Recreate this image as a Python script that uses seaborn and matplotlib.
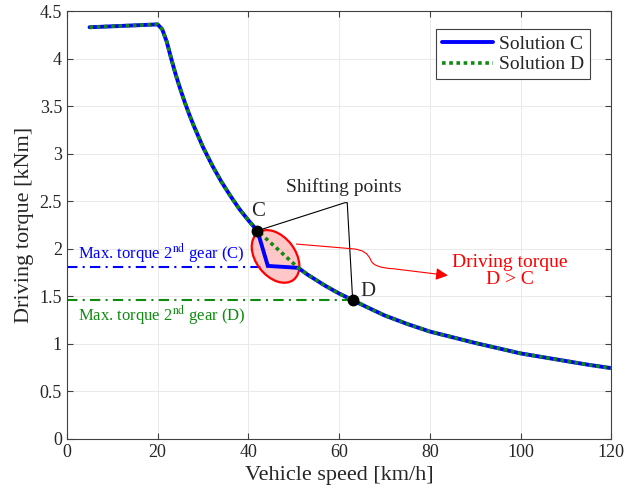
import numpy as np
import pandas as pd
import seaborn as sns
import matplotlib.pyplot as plt
from matplotlib.patches import Ellipse, FancyArrowPatch
from matplotlib.path import Path
from matplotlib.transforms import ScaledTranslation

# Full-load driving torque envelope [km/h] -> [kNm]
speed = [5, 10, 15, 20, 21, 22, 23, 24, 25, 26, 27, 28, 30, 32, 34, 36, 38, 40, 42,
         44, 46, 48, 51, 53, 55, 57, 60, 63, 66, 70, 75, 80, 85, 90, 95, 100, 105,
         110, 115, 120]
torque = [4.33, 4.34, 4.35, 4.36, 4.31, 4.18, 4.00, 3.83, 3.68, 3.54, 3.41, 3.29,
          3.07, 2.88, 2.71, 2.56, 2.42, 2.30, 2.19, 2.09, 2.00, 1.92, 1.80, 1.73,
          1.67, 1.61, 1.53, 1.46, 1.39, 1.30, 1.21, 1.13, 1.07, 1.01, 0.955, 0.90,
          0.86, 0.82, 0.78, 0.745]

# Shift points and second-gear torque limits
shift_c = (42, 2.19)
shift_d = (63, 1.46)
max_torque_c = 1.81
max_torque_d = 1.46
corner_c = (44.3, 1.82)
rejoin = (51, 1.80)

# Solution C: drops at C to 2nd-gear limit, then rejoins the envelope
sol_c_speed = [v for v in speed if v <= shift_c[0]] + [corner_c[0]] + [v for v in speed if v >= rejoin[0]]
sol_c_torque = [t for v, t in zip(speed, torque) if v <= shift_c[0]] + [corner_c[1]] + \
               [t for v, t in zip(speed, torque) if v >= rejoin[0]]
# Solution D: straight transition from C to the envelope
sol_d_speed = [v for v in speed if v <= shift_c[0]] + [v for v in speed if v >= rejoin[0]]
sol_d_torque = [t for v, t in zip(speed, torque) if v <= shift_c[0]] + \
               [t for v, t in zip(speed, torque) if v >= rejoin[0]]

df = pd.concat([
    pd.DataFrame({"speed": sol_c_speed, "torque": sol_c_torque, "series": "Solution C"}),
    pd.DataFrame({"speed": sol_d_speed, "torque": sol_d_torque, "series": "Solution D"}),
], ignore_index=True)

sns.set_style("ticks")
plt.rcParams["font.family"] = ["Liberation Serif", "DejaVu Serif"]
plt.rcParams["mathtext.fontset"] = "stix"

fig = plt.figure(figsize=(6.25, 5.04), dpi=100)
ax = fig.add_axes([0.107, 0.129, 0.871, 0.849])

blue = "#0000ff"
green = "#108a10"

sns.lineplot(data=df[df.series == "Solution C"], x="speed", y="torque", ax=ax,
             color=blue, lw=2.8, sort=False, estimator=None, label="Solution C", zorder=3)
sns.lineplot(data=df[df.series == "Solution D"], x="speed", y="torque", ax=ax,
             color=green, lw=2.6, sort=False, estimator=None, label="Solution D", zorder=4)
ax.lines[1].set_linestyle((0, (1, 1)))

# 2nd gear maximum torque levels
ax.plot([0, corner_c[0]], [max_torque_c, max_torque_c], color=blue, lw=1.5,
        ls=(0, (5, 2.5, 1, 2.5)), zorder=2)
ax.plot([0, shift_d[0]], [max_torque_d, max_torque_d], color=green, lw=1.5,
        ls=(0, (5, 2.5, 1, 2.5)), zorder=2)

# Highlighted region between the two solutions
ell = Ellipse((0, 0), width=0.59, height=0.395, angle=-52.6,
              transform=fig.dpi_scale_trans + ScaledTranslation(46.0, 1.92, ax.transData),
              facecolor=(1, 0.6, 0.6, 0.55), edgecolor="red", lw=1.6, zorder=2.5)
ax.add_patch(ell)

# Shift points
ax.plot([shift_c[0], shift_d[0]], [shift_c[1], shift_d[1]], "o", color="black",
        ms=7.5, ls="none", zorder=6)
ax.text(42.2, 2.39, "C", fontsize=15, ha="center", va="center")
ax.text(66.4, 1.55, "D", fontsize=15, ha="center", va="center")

# Shifting points callout
ax.plot([shift_c[0], 61.3, 61.8, shift_d[0]], [shift_c[1], 2.485, 2.485, shift_d[1]],
        color="black", lw=0.8, zorder=5)
ax.text(61.0, 2.65, "Shifting points", fontsize=14, ha="center", va="center")

# Driving torque arrow
verts = [(50.6, 2.05), (63.0, 2.00), (66.2, 1.99), (67.0, 1.88),
         (67.6, 1.80), (72.0, 1.79), (84.0, 1.72)]
codes = [Path.MOVETO, Path.LINETO, Path.CURVE3, Path.CURVE3,
         Path.CURVE3, Path.CURVE3, Path.LINETO]
arrow = FancyArrowPatch(path=Path(verts, codes), arrowstyle="-|>", mutation_scale=18,
                        color="red", lw=0.8, zorder=5)
ax.add_patch(arrow)
ax.text(97.7, 1.765, "Driving torque\nD > C", color="red", fontsize=14,
        ha="center", va="center", linespacing=1.0)

ax.text(2.4, 1.95, r"Max. torque 2$^{\mathrm{nd}}$ gear (C)", color=blue,
        fontsize=12, ha="left", va="center")
ax.text(2.4, 1.30, r"Max. torque 2$^{\mathrm{nd}}$ gear (D)", color=green,
        fontsize=12, ha="left", va="center")

ax.set_xlim(0, 120)
ax.set_ylim(0, 4.5)
ax.set_xticks(np.arange(0, 121, 20))
ax.set_yticks(np.arange(0, 4.51, 0.5))
ax.set_yticklabels(["0", "0.5", "1", "1.5", "2", "2.5", "3", "3.5", "4", "4.5"])
ax.set_xlabel("Vehicle speed [km/h]", fontsize=16)
ax.set_ylabel("Driving torque [kNm]", fontsize=16)
ax.tick_params(direction="in", top=True, right=True, labelsize=13, color="#404040",
               length=4, width=0.8)
ax.grid(True, color="#e6e6e6", lw=0.6, zorder=0)
ax.set_axisbelow(True)
for s in ax.spines.values():
    s.set_color("#404040")
    s.set_linewidth(0.8)

leg = ax.legend(loc="upper right", fontsize=14, frameon=True, fancybox=False,
                edgecolor="#404040", framealpha=1, borderpad=0.3, handlelength=2.6,
                handletextpad=0.3, labelspacing=0.15, bbox_to_anchor=(0.978, 0.98))
leg.get_frame().set_linewidth(0.8)

fig.savefig("out.png", dpi=100)
